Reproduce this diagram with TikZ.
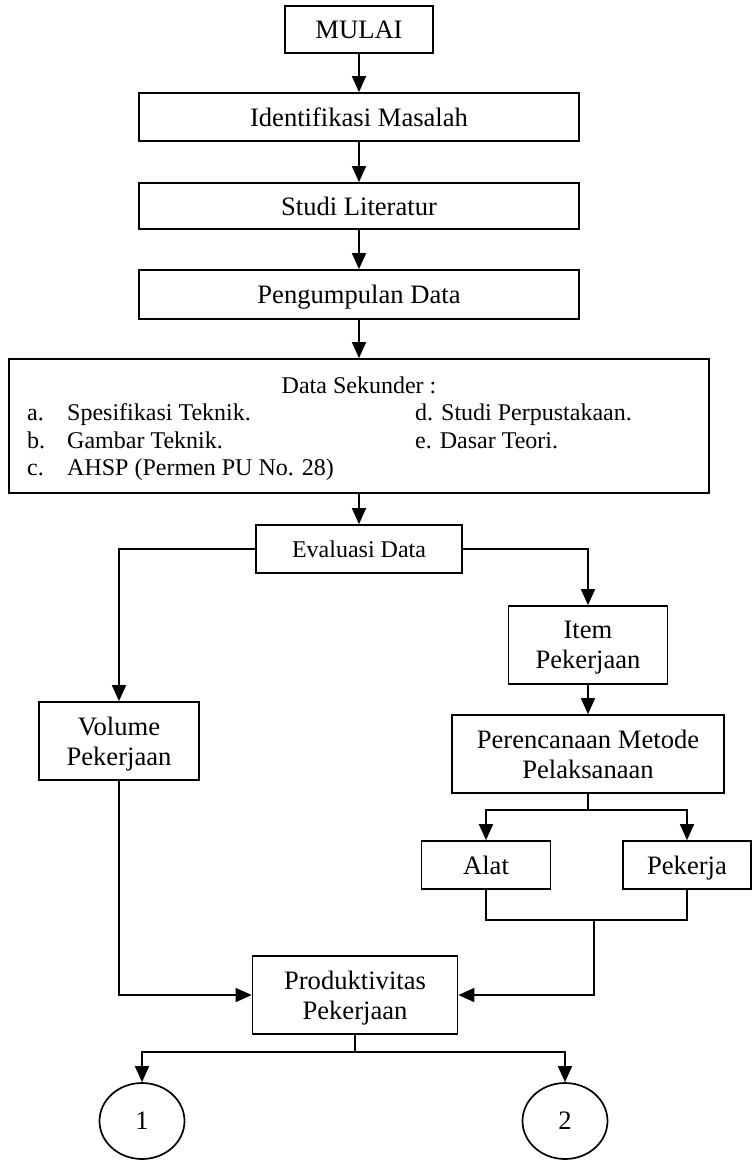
\documentclass[tikz,border=0pt]{standalone}
\usepackage{fontspec}
\setmainfont{Liberation Serif}
\usetikzlibrary{arrows.meta,shapes.geometric}
\tikzset{
	box/.style={draw,line width=1.7pt,inner sep=0pt,align=center,text depth=-8pt,font=\fontsize{26.6}{30}\selectfont},
	sbox/.style={box,text depth=-7pt,font=\fontsize{24}{27}\selectfont},
	txt/.style={inner sep=0pt,anchor=base west,font=\fontsize{24}{27}\selectfont},
	oval/.style={draw,ellipse,line width=1.7pt,inner sep=0pt,font=\fontsize{26.6}{30}\selectfont},
	arr/.style={line width=1.7pt,-{Triangle[length=16pt,width=14pt]}},
	ln/.style={line width=1.7pt}
}
\begin{document}
\begin{tikzpicture}[x=1pt,y=-1pt]
\useasboundingbox (0,0) rectangle (752,1160);
\node [box,minimum width=148pt,minimum height=47pt] (mulai) at (359,29.5) {MULAI};
\node [box,minimum width=440pt,minimum height=48pt] (ident) at (359,117) {Identifikasi Masalah};
\node [box,minimum width=440pt,minimum height=46pt] (studi) at (359,206) {Studi Literatur};
\node [box,minimum width=440pt,minimum height=49pt] (kumpul) at (359,294.5) {Pengumpulan Data};
\node [sbox,minimum width=700pt,minimum height=134pt] (sekunder) at (359,426) {};
\node [txt,anchor=base] (judul) at (359,393) {Data Sekunder :};
\node [txt] (ha) at (27,420) {a.};
\node [txt] (ia) at (67,420) {Spesifikasi Teknik.};
\node [txt] (hb) at (27,448) {b.};
\node [txt] (ib) at (67,448) {Gambar Teknik.};
\node [txt] (hc) at (27,475) {c.};
\node [txt] (ic) at (67,475) {AHSP (Permen PU No. 28)};
\node [txt] (id) at (415,420) {d. Studi Perpustakaan.};
\node [txt] (ie) at (415,448) {e. Dasar Teori.};
\node [sbox,minimum width=206pt,minimum height=48pt] (evaluasi) at (359,549) {Evaluasi Data};
\node [box,minimum width=159pt,minimum height=78pt] (item) at (588,645) {Item\\Pekerjaan};
\node [box,minimum width=160pt,minimum height=78pt] (volume) at (119,741) {Volume\\Pekerjaan};
\node [box,minimum width=272pt,minimum height=78pt] (metode) at (588,754) {Perencanaan Metode\\Pelaksanaan};
\node [box,minimum width=129pt,minimum height=48pt] (alat) at (486,865) {Alat};
\node [box,minimum width=128pt,minimum height=48pt] (pekerja) at (687,865) {Pekerja};
\node [box,minimum width=205pt,minimum height=78pt] (produk) at (355,995) {Produktivitas\\Pekerjaan};
\node [oval,minimum width=85pt,minimum height=76pt] (satu) at (142,1121) {1};
\node [oval,minimum width=85pt,minimum height=76pt] (dua) at (565,1121) {2};
\coordinate (gabung) at (594,920);

\draw [arr] (mulai) -- (ident);
\draw [arr] (ident) -- (studi);
\draw [arr] (studi) -- (kumpul);
\draw [arr] (kumpul) -- (sekunder);
\draw [arr] (sekunder) -- (evaluasi);
\draw [arr] (evaluasi.west) -| (volume.north);
\draw [arr] (evaluasi.east) -| (item.north);
\draw [arr] (item) -- (metode);
\draw [ln] (metode.south) -- ++(0,16) coordinate (bagi);
\draw [arr] (bagi) -| (alat.north);
\draw [arr] (bagi) -| (pekerja.north);
\draw [ln] (alat.south) |- (gabung) -| (pekerja.south);
\draw [arr] (gabung) |- (produk.east);
\draw [arr] (volume.south) |- (produk.west);
\draw [ln] (produk.south) -- ++(0,17) coordinate (cabang);
\draw [arr] (cabang) -| (satu.north);
\draw [arr] (cabang) -| (dua.north);
\end{tikzpicture}
\end{document}
